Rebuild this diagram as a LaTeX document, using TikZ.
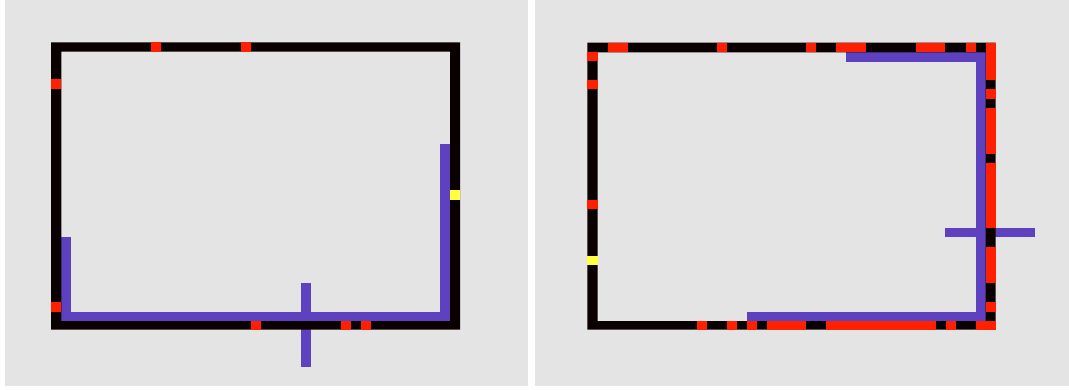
\documentclass[tikz,border=0pt]{standalone}
\definecolor{bgc}{HTML}{E4E4E4}
\definecolor{fk}{HTML}{0A0000}
\definecolor{rdc}{HTML}{FF2000}
\definecolor{puc}{HTML}{5E41BE}
\definecolor{yec}{HTML}{FFFF40}
\begin{document}
\begin{tikzpicture}[x=1pt,y=-1pt,
  panel/.style={fill=bgc},
  wall/.style={fill=fk,even odd rule},
  redcell/.style={fill=rdc},
  purp/.style={fill=puc},
  yel/.style={fill=yec}]
\useasboundingbox (0,0) rectangle (1069,389);
\fill[white] (0,0) rectangle (1069,389);
% panels
\fill[panel] (4.5,0) rectangle (528,386);
\fill[panel] (535,0) rectangle (1069,386);
% ---------- left panel ----------
\fill[purp] (61.3,311.7) rectangle (450.1,321);
\fill[purp] (440.1,144.3) rectangle (450.1,321);
\fill[purp] (61.3,237) rectangle (71.3,321);
\fill[purp] (300.6,283.3) rectangle (310.6,367.3);
\fill[wall] (51,42.3) rectangle (460.2,329.7) (61.3,51.7) rectangle (450.1,321);
\foreach \a/\b in {150.8/160.8, 241.1/251.1}
  \fill[redcell] (\a,42.3) rectangle (\b,51.7);
\foreach \a/\b in {79.3/88.7, 302.3/311.7}
  \fill[redcell] (51,\a) rectangle (61.3,\b);
\foreach \a/\b in {251/260.7, 340.6/350.6, 360.6/370.6}
  \fill[redcell] (\a,321) rectangle (\b,329.7);
\fill[yel] (450.1,190.3) rectangle (460.2,200.3);
% ---------- right panel ----------
\fill[purp] (846.3,52.3) rectangle (985.5,61.7);
\fill[purp] (975.5,52.3) rectangle (985.5,321);
\fill[purp] (746.9,311.7) rectangle (985.5,321);
\fill[purp] (945.3,228.3) rectangle (1035.3,237.3);
\fill[wall] (587.4,42.7) rectangle (995.5,329.7) (597.7,52.3) rectangle (985.5,321);
\foreach \a/\b in {608.0/627.6, 717.0/727.0, 806.4/816.4, 836.0/865.9, 916.4/945.3, 965.5/975.5, 985.5/995.5}
  \fill[redcell] (\a,42.7) rectangle (\b,52.3);
\foreach \a/\b in {52.3/61, 80/89.3, 200.3/209.3}
  \fill[redcell] (587.4,\a) rectangle (597.7,\b);
\fill[yel] (587.4,256) rectangle (597.7,265);
\foreach \a/\b in {42.7/80, 89.3/99, 108/154, 163.3/228.3, 247/283.3, 302.3/311.7, 321/329.7}
  \fill[redcell] (985.5,\a) rectangle (995.5,\b);
\foreach \a/\b in {697.1/707.0, 727.0/737.0, 746.9/756.9, 766.9/806.4, 826.3/935.6, 945.6/955.6, 975.9/995.5}
  \fill[redcell] (\a,321) rectangle (\b,329.7);
\end{tikzpicture}
\end{document}
